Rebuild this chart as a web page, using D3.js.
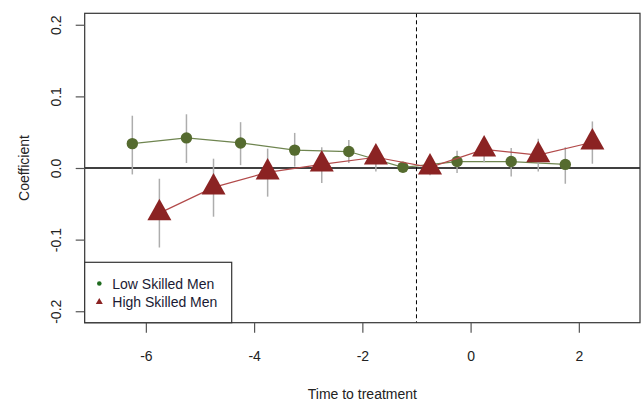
<!DOCTYPE html>
<html>
<head>
<meta charset="utf-8">
<script src="https://cdn.jsdelivr.net/npm/d3@7"></script>
<style>
  html, body { margin: 0; padding: 0; background: #fff; }
  svg { display: block; font-family: "Liberation Sans", Arial, sans-serif; }
</style>
</head>
<body>
<svg id="chart" width="643" height="403"></svg>
<script>
// Event-study estimates by period relative to treatment
const eventTime = [-6, -5, -4, -3, -2, -1, 0, 1, 2];

const lowCoef = [0.034, 0.042, 0.035, 0.025, 0.023, 0.001, 0.009, 0.009, 0.005];
const lowLo   = [-0.009, 0.007, 0.004, 0.002, 0.007, -0.006, -0.007, -0.012, -0.022];
const lowHi   = [0.073, 0.075, 0.064, 0.049, 0.039, 0.008, 0.024, 0.028, 0.029];

const highCoef = [-0.063, -0.027, -0.006, 0.005, 0.015, 0.001, 0.026, 0.018, 0.036];
const highLo   = [-0.111, -0.068, -0.040, -0.021, -0.005, -0.010, 0.008, -0.005, 0.006];
const highHi   = [-0.015, 0.013, 0.027, 0.029, 0.032, 0.012, 0.043, 0.041, 0.065];

const xTicks = [-6, -4, -2, 0, 2];
const xTickLabels = ["-6", "-4", "-2", "0", "2"];
const yTicks = [-0.2, -0.1, 0.0, 0.1, 0.2];
const yTickLabels = ["-0.2", "-0.1", "0.0", "0.1", "0.2"];
const seriesNames = ["Low Skilled Men", "High Skilled Men"];
const treatmentLine = -1;

const svg = d3.select("#chart");
const box = { left: 84.7, right: 640, top: 13.3, bottom: 322.7 };

const x = d3.scaleLinear().domain([-7.13, 3.13]).range([box.left, box.right]);
const y = d3.scaleLinear().domain([-0.216, 0.216]).range([box.bottom, box.top]);

const textColor = "#222";
const green = "#556b2f";
const red = "#8b2323";

// Triangle centred on its centroid (two thirds of the height above the base)
function triangle(w, h) {
  return `M0,${-2 * h / 3}L${w / 2},${h / 3}L${-w / 2},${h / 3}Z`;
}

// Zero reference and treatment line
svg.append("line")
  .attr("x1", box.left).attr("x2", box.right)
  .attr("y1", y(0)).attr("y2", y(0))
  .attr("stroke", "#000").attr("stroke-width", 1.3);

svg.append("line")
  .attr("x1", x(treatmentLine)).attr("x2", x(treatmentLine))
  .attr("y1", box.top).attr("y2", box.bottom)
  .attr("stroke", "#000").attr("stroke-width", 1)
  .attr("stroke-dasharray", "4,3");

const series = [
  { coef: lowCoef, lo: lowLo, hi: lowHi, dodge: -0.25, line: "#6f8550", kind: "circle", fill: green },
  { coef: highCoef, lo: highLo, hi: highHi, dodge: 0.25, line: "#b24a4a", kind: "triangle", fill: red }
];

series.forEach(s => {
  const rows = eventTime.map((t, i) => ({ t: t + s.dodge, c: s.coef[i], lo: s.lo[i], hi: s.hi[i] }));
  const g = svg.append("g");

  // Confidence intervals
  g.selectAll("line.ci").data(rows).join("line")
    .attr("class", "ci")
    .attr("x1", d => x(d.t)).attr("x2", d => x(d.t))
    .attr("y1", d => y(d.lo)).attr("y2", d => y(d.hi))
    .attr("stroke", "#adadad").attr("stroke-width", 1.5);

  // Connecting line
  g.append("path")
    .datum(rows)
    .attr("d", d3.line().x(d => x(d.t)).y(d => y(d.c)))
    .attr("fill", "none")
    .attr("stroke", s.line)
    .attr("stroke-width", 1.2);

  // Point estimates
  if (s.kind === "circle") {
    g.selectAll("circle").data(rows).join("circle")
      .attr("cx", d => x(d.t)).attr("cy", d => y(d.c))
      .attr("r", 5.7).attr("fill", s.fill);
  } else {
    g.selectAll("path.pt").data(rows).join("path")
      .attr("class", "pt")
      .attr("transform", d => `translate(${x(d.t)},${y(d.c)})`)
      .attr("d", triangle(24, 21.5))
      .attr("fill", s.fill);
  }
});

// Plot frame
svg.append("rect")
  .attr("x", box.left).attr("y", box.top)
  .attr("width", box.right - box.left).attr("height", box.bottom - box.top)
  .attr("fill", "none").attr("stroke", "#333").attr("stroke-width", 1.2);

// X axis
const xAxis = svg.append("g")
  .attr("transform", `translate(0,${box.bottom})`)
  .call(d3.axisBottom(x).tickValues(xTicks).tickSize(10).tickPadding(18)
    .tickFormat((d, i) => xTickLabels[i]));
xAxis.select(".domain").remove();
xAxis.selectAll(".tick line").attr("stroke", "#555").attr("stroke-width", 1.2);
xAxis.selectAll(".tick text").attr("fill", textColor).attr("font-size", 14)
  .attr("font-family", "Liberation Sans, Arial, sans-serif");

// Y axis with rotated labels
const yAxis = svg.append("g")
  .attr("transform", `translate(${box.left},0)`)
  .call(d3.axisLeft(y).tickValues(yTicks).tickSize(9).tickFormat((d, i) => yTickLabels[i]));
yAxis.select(".domain").remove();
yAxis.selectAll(".tick line").attr("stroke", "#555").attr("stroke-width", 1.2);
yAxis.selectAll(".tick text")
  .attr("fill", textColor).attr("font-size", 14)
  .attr("font-family", "Liberation Sans, Arial, sans-serif")
  .attr("x", null).attr("dy", null)
  .attr("text-anchor", "middle")
  .attr("dominant-baseline", "central")
  .attr("transform", `translate(${56 - box.left},0) rotate(-90)`);

// Axis titles
svg.append("text")
  .attr("x", (box.left + box.right) / 2).attr("y", 394)
  .attr("text-anchor", "middle").attr("dominant-baseline", "central")
  .attr("font-size", 14).attr("fill", textColor)
  .text("Time to treatment");

svg.append("text")
  .attr("transform", `translate(24,${y(0)}) rotate(-90)`)
  .attr("text-anchor", "middle").attr("dominant-baseline", "central")
  .attr("font-size", 14).attr("fill", textColor)
  .text("Coefficient");

// Legend
const legend = svg.append("g");
legend.append("rect")
  .attr("x", box.left).attr("y", 262.3)
  .attr("width", 231.7 - box.left).attr("height", box.bottom - 262.3)
  .attr("fill", "#fff").attr("stroke", "#333").attr("stroke-width", 1.2);

const legendRows = [
  { name: seriesNames[0], kind: "circle", fill: "#1f6b1f", cy: 283.5 },
  { name: seriesNames[1], kind: "triangle", fill: red, cy: 302 }
];
legendRows.forEach(r => {
  if (r.kind === "circle") {
    legend.append("circle").attr("cx", 99.3).attr("cy", r.cy).attr("r", 2.3).attr("fill", r.fill);
  } else {
    legend.append("path").attr("transform", `translate(99.3,${r.cy})`)
      .attr("d", triangle(7, 6)).attr("fill", r.fill);
  }
  legend.append("text")
    .attr("x", 112.3).attr("y", r.cy)
    .attr("dominant-baseline", "central")
    .attr("font-size", 14).attr("fill", "#1a1a33")
    .text(r.name);
});
</script>
</body>
</html>
